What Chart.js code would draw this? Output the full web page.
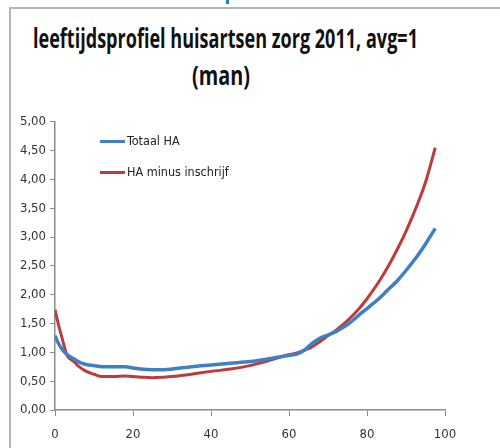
<!DOCTYPE html>
<html>
<head>
<meta charset="utf-8">
<script src="https://cdn.jsdelivr.net/npm/chart.js@4"></script>
<style>
  body { margin: 0; background: #fff; width: 500px; height: 448px; overflow: hidden; position: relative; font-family: 'DejaVu Sans Condensed', 'Open Sans', sans-serif; }
  #frame { position: absolute; left: 9px; top: 7px; width: 500px; height: 460px; border-left: 2px solid #b4b4b4; border-top: 2px solid #b4b4b4; }
  #blip { position: absolute; left: 226px; top: 0; width: 3px; height: 4px; background: #1f7fd0; }
  .title { position: absolute; left: 0; width: 500px; font-weight: bold; color: #111; white-space: nowrap; font-family: 'Open Sans', sans-serif; }
  .title span { display: inline-block; transform-origin: left center; }
  #t1 { top: 20px; font-size: 26px; }
  #t2 { top: 57px; font-size: 26px; }
  #chartBox { position: absolute; left: 0; top: 110px; width: 470px; height: 338px; }
  .leg { position: absolute; font-size: 12.5px; color: #222; white-space: nowrap; }
  .leg i { position: absolute; left: -27px; top: 7px; width: 25px; height: 3px; }
</style>
</head>
<body>
<div id="frame"></div>
<div id="blip"></div>
<div class="title" id="t1"><span id="s1">leeftijdsprofiel huisartsen zorg 2011, avg=1</span></div>
<div class="title" id="t2"><span id="s2">(man)</span></div>
<div id="chartBox"><canvas id="c"></canvas></div>
<div class="leg" style="left:127px;top:133px;"><i style="background:#3f7fc4"></i>Totaal HA</div>
<div class="leg" style="left:127px;top:164px;"><i style="background:#c0393b"></i>HA minus inschrijf</div>
<script>
// ages (x) shared by both series
var ages = [0, 1, 2, 3, 4, 5, 6, 7, 8, 10, 12, 15, 18, 20, 22, 25, 28, 30, 35, 40, 45, 50, 55, 60, 62, 64, 66, 68, 70, 72, 75, 78, 80, 83, 85, 88, 90, 93, 95, 97.5];

var totaalHA = [1.29, 1.14, 1.04, 0.97, 0.92, 0.88, 0.84, 0.81, 0.79, 0.77, 0.75, 0.75, 0.75, 0.73, 0.71, 0.70, 0.70, 0.71, 0.75, 0.78, 0.81, 0.84, 0.89, 0.95, 0.97, 1.04, 1.16, 1.25, 1.30, 1.36, 1.48, 1.65, 1.76, 1.93, 2.06, 2.26, 2.42, 2.68, 2.88, 3.15];

var haMinusInschrijf = [1.74, 1.45, 1.20, 0.96, 0.88, 0.83, 0.76, 0.71, 0.67, 0.62, 0.58, 0.58, 0.59, 0.58, 0.57, 0.56, 0.57, 0.58, 0.62, 0.67, 0.71, 0.77, 0.86, 0.96, 0.99, 1.04, 1.10, 1.19, 1.29, 1.38, 1.55, 1.76, 1.93, 2.22, 2.44, 2.82, 3.10, 3.58, 3.95, 4.55];

var yTicks = [0, 0.5, 1, 1.5, 2, 2.5, 3, 3.5, 4, 4.5, 5];
var xTicks = [0, 20, 40, 60, 80, 100];

function pts(ys) {
  return ages.map(function(a, i) { return { x: a, y: ys[i] }; });
}

// squeeze the title text like the narrow original
function fit(id, w, cx) {
  var s = document.getElementById(id);
  var r = s.getBoundingClientRect();
  var k = w / r.width;
  s.style.transform = 'scaleX(' + k + ')';
  s.style.marginLeft = (cx - w / 2) + 'px';
}
fit('s1', 385, 225);
fit('s2', 58, 221);

var axisColor = '#8c8c8c';
var tickFont = { family: "'DejaVu Sans Condensed', 'Open Sans', sans-serif", size: 13 };

new Chart(document.getElementById('c'), {
  type: 'line',
  data: {
    datasets: [
      {
        label: 'Totaal HA',
        data: pts(totaalHA),
        borderColor: '#3f7fc4',
        borderWidth: 3.5,
        pointRadius: 0,
        cubicInterpolationMode: 'monotone',
        fill: false
      },
      {
        label: 'HA minus inschrijf',
        data: pts(haMinusInschrijf),
        borderColor: '#c0393b',
        borderWidth: 3,
        pointRadius: 0,
        cubicInterpolationMode: 'monotone',
        fill: false
      }
    ]
  },
  options: {
    responsive: true,
    maintainAspectRatio: false,
    animation: false,
    layout: { padding: { top: 9, right: 25, left: 0, bottom: 0 } },
    plugins: { legend: { display: false }, tooltip: { enabled: false } },
    scales: {
      x: {
        type: 'linear',
        min: 0,
        max: 100,
        afterBuildTicks: function(s) { s.ticks = xTicks.map(function(v) { return { value: v }; }); },
        afterFit: function(s) { s.height = 38; },
        grid: { drawOnChartArea: false, drawTicks: true, tickLength: 6, color: axisColor },
        border: { display: true, color: axisColor, width: 1.5 },
        ticks: { color: '#333', font: tickFont, padding: 11, maxRotation: 0 }
      },
      y: {
        min: 0,
        max: 5,
        afterBuildTicks: function(s) { s.ticks = yTicks.map(function(v) { return { value: v }; }); },
        afterFit: function(s) { s.width = 55; },
        grid: { drawOnChartArea: false, drawTicks: true, tickLength: 5, color: axisColor },
        border: { display: true, color: axisColor, width: 1.5 },
        ticks: {
          color: '#333',
          font: tickFont,
          padding: 4,
          callback: function(v) { return v.toFixed(2).replace('.', ','); }
        }
      }
    }
  }
});
</script>
</body>
</html>
